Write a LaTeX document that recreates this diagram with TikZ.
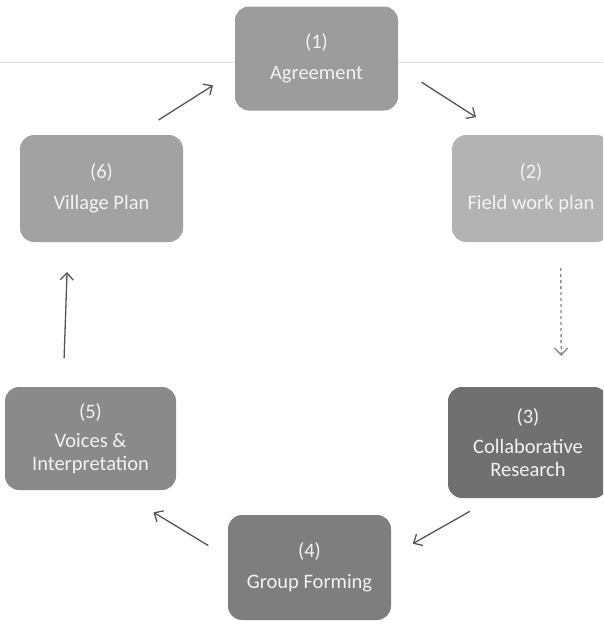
\documentclass[tikz,border=0pt]{standalone}
\usepackage{fontspec}
\setmainfont{Carlito}
\usepackage{xcolor}
\usetikzlibrary{arrows.meta}

\definecolor{agreegray}{HTML}{9C9C9C}
\definecolor{fieldgray}{HTML}{B3B3B3}
\definecolor{collabgray}{HTML}{707070}
\definecolor{groupgray}{HTML}{7E7E7E}
\definecolor{voicesgray}{HTML}{8A8A8A}
\definecolor{villagegray}{HTML}{A2A2A2}
\definecolor{boxtext}{HTML}{F2F2F2}
\definecolor{arrowgray}{HTML}{555555}
\definecolor{scanline}{HTML}{E8DEDF}

\begin{document}
\begin{tikzpicture}[
    x=1pt, y=-1pt,
    box/.style={rectangle, rounded corners=14pt, minimum width=163pt, minimum height=104pt,
        inner sep=0pt, outer sep=0pt, align=center, text=boxtext,
        font=\fontsize{20.5}{23}\selectfont},
    arrow/.style={-{Straight Barb[length=7pt, width=13pt]}, line width=1.3pt, draw=arrowgray}
]
    \useasboundingbox (0,0) rectangle (603,624);
    \clip (0,0) rectangle (603,624);
    \fill[white] (0,0) rectangle (603,624);
    \draw[scanline, line width=1pt] (0,62) -- (603,62);

    \node[box, fill=agreegray] (agree) at (316.5,58.5) {(1)\\[8pt]Agreement};
    \node[box, fill=fieldgray, minimum width=158pt, minimum height=107pt] (field) at (531,188.5) {(2)\\[8pt]Field work plan};
    \node[box, fill=collabgray, minimum width=160pt, minimum height=111pt] (collab) at (528,442.5) {(3)\\[7pt]Collaborative\\Research};
    \node[box, fill=groupgray, minimum height=105pt] (group) at (309.5,567.5) {(4)\\[8pt]Group Forming};
    \node[box, fill=voicesgray, minimum width=171pt, minimum height=103pt] (voices) at (90.5,438.5) {(5)\\[6pt]Voices \&\\Interpretation};
    \node[box, fill=villagegray, minimum height=107pt] (village) at (101.5,188.5) {(6)\\[8pt]Village Plan};

    \draw[arrow, shorten <=28pt, shorten >=33pt] (agree.-6) -- (field.117);
    \draw[arrow, draw=arrowgray!70, dashed, shorten <=26pt, shorten >=31pt] (field.-61) -- (collab.59);
    \draw[arrow, shorten <=27pt, shorten >=25pt] (collab.-122) -- (group.8.5);
    \draw[arrow, shorten <=23pt, shorten >=43pt] (group.173) -- (voices.-63);
    \draw[arrow, shorten <=29pt, shorten >=30pt] (voices.118) -- (village.-122);
    \draw[arrow, shorten <=28pt, shorten >=26pt] (village.58) -- (agree.-171);
\end{tikzpicture}
\end{document}
